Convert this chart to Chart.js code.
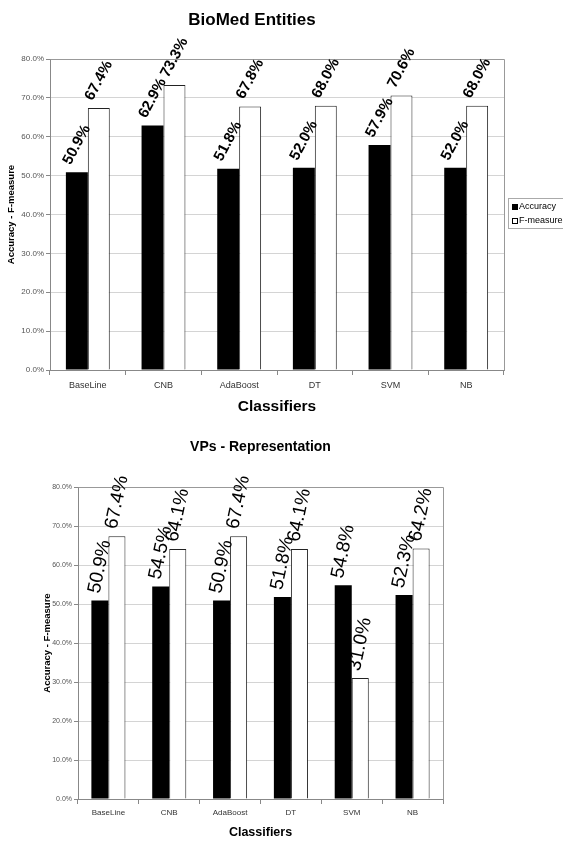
<!DOCTYPE html>
<html>
<head>
<meta charset="utf-8">
<script src="https://cdn.jsdelivr.net/npm/chart.js@4.4.1/dist/chart.umd.min.js"></script>
<style>
  html, body { margin: 0; padding: 0; background: #fff; }
  .wrap { position: absolute; left: 0; width: 563px; }
  #top-wrap { top: 0; height: 420px; }
  #bottom-wrap { top: 420px; height: 421px; }
</style>
</head>
<body>
<div class="wrap" id="top-wrap"><canvas id="biomed-chart"></canvas></div>
<div class="wrap" id="bottom-wrap"><canvas id="vps-chart"></canvas></div>
<script>
// data
const classifiers = ['BaseLine', 'CNB', 'AdaBoost', 'DT', 'SVM', 'NB'];
const biomedAccuracy = [50.9, 62.9, 51.8, 52.0, 57.9, 52.0];
const biomedFMeasure = [67.4, 73.3, 67.8, 68.0, 70.6, 68.0];
const vpsAccuracy = [50.9, 54.5, 50.9, 51.8, 54.8, 52.3];
const vpsFMeasure = [67.4, 64.1, 67.4, 64.1, 31.0, 64.2];
const yTicks = [0, 10, 20, 30, 40, 50, 60, 70, 80];

const SANS = "'Liberation Sans', Arial, sans-serif";

// rotated value labels above each bar (Excel style)
const barLabels = {
    id: 'barLabels',
    afterDatasetsDraw(chart, args, opts) {
        const ctx = chart.ctx;
        const ang = opts.angle * Math.PI / 180;
        ctx.save();
        ctx.font = opts.font;
        ctx.fillStyle = '#000';
        ctx.textAlign = 'center';
        ctx.textBaseline = 'middle';
        chart.data.datasets.forEach((ds, i) => {
            chart.getDatasetMeta(i).data.forEach((bar, j) => {
                const txt = ds.data[j].toFixed(1) + '%';
                const w = ctx.measureText(txt).width;
                const boxH = w * Math.sin(ang) + opts.size * 0.75 * Math.cos(ang);
                ctx.save();
                ctx.translate(bar.x, bar.y - opts.gap - boxH / 2);
                ctx.rotate(-ang);
                ctx.fillText(txt, 0, 0);
                ctx.restore();
            });
        });
        ctx.restore();
    }
};

// top and right edge of the plot area
const plotFrame = {
    id: 'plotFrame',
    beforeDatasetsDraw(chart) {
        const {ctx, chartArea: a} = chart;
        ctx.save();
        ctx.strokeStyle = '#999';
        ctx.lineWidth = 1;
        ctx.beginPath();
        ctx.moveTo(Math.round(a.left) + 0.5, Math.round(a.top) + 0.5);
        ctx.lineTo(Math.round(a.right) + 0.5, Math.round(a.top) + 0.5);
        ctx.lineTo(Math.round(a.right) + 0.5, Math.round(a.bottom) + 0.5);
        ctx.stroke();
        ctx.restore();
    }
};

// small boxed legend on the right
const boxLegend = {
    id: 'boxLegend',
    afterDraw(chart, args, opts) {
        const ctx = chart.ctx;
        ctx.save();
        ctx.strokeStyle = '#aaa';
        ctx.lineWidth = 1;
        ctx.strokeRect(opts.x + 0.5, opts.y + 0.5, opts.w, opts.h);
        ctx.font = opts.font;
        ctx.textAlign = 'left';
        ctx.textBaseline = 'middle';
        chart.data.datasets.forEach((ds, i) => {
            const y = opts.y + opts.first + i * opts.step;
            ctx.fillStyle = ds.backgroundColor;
            ctx.fillRect(opts.x + 4, y - 3, 6, 6);
            ctx.strokeStyle = '#000';
            ctx.strokeRect(opts.x + 4.5, y - 2.5, 5, 5);
            ctx.fillStyle = '#000';
            ctx.fillText(ds.label, opts.x + 11, y);
        });
        ctx.restore();
    }
};

function makeChart(canvas, acc, fm, fmLabel, s) {
    return new Chart(canvas.getContext('2d'), {
        type: 'bar',
        data: {
            labels: classifiers,
            datasets: [
                { label: 'Accuracy', data: acc, backgroundColor: '#000', borderWidth: 0 },
                { label: fmLabel, data: fm, backgroundColor: '#fff', borderColor: '#222', borderWidth: 1 }
            ]
        },
        options: {
            responsive: true,
            maintainAspectRatio: false,
            animation: false,
            devicePixelRatio: 1,
            categoryPercentage: s.catPct,
            barPercentage: 1,
            layout: { padding: s.padding },
            plugins: {
                legend: { display: false },
                tooltip: { enabled: false },
                title: {
                    display: true,
                    text: s.title,
                    color: '#000',
                    fullSize: s.titleFull,
                    font: { family: SANS, size: s.titleSize, weight: 'bold' },
                    padding: s.titlePad
                },
                barLabels: s.labels,
                boxLegend: s.legend
            },
            scales: {
                x: {
                    afterFit: sc => { sc.height = s.xHeight; },
                    grid: { offset: true, drawOnChartArea: false, tickLength: 5, color: '#888' },
                    border: { display: true, color: '#888' },
                    ticks: { color: '#333', font: { family: SANS, size: s.catSize }, padding: s.catPad, maxRotation: 0, autoSkip: false },
                    title: {
                        display: true,
                        text: 'Classifiers',
                        color: '#000',
                        font: { family: SANS, size: s.xTitleSize, weight: 'bold' },
                        padding: { top: 0, bottom: s.xTitlePad }
                    }
                },
                y: {
                    min: yTicks[0],
                    max: yTicks[yTicks.length - 1],
                    afterBuildTicks: sc => { sc.ticks = yTicks.map(v => ({ value: v })); },
                    afterFit: sc => { sc.width = s.yWidth; },
                    grid: { color: '#d4d4d4', tickLength: 4, tickColor: '#888' },
                    border: { display: true, color: '#888' },
                    ticks: {
                        color: '#555',
                        padding: 2,
                        font: { family: SANS, size: s.yTickSize },
                        callback: v => v.toFixed(1) + '%'
                    },
                    title: {
                        display: true,
                        text: 'Accuracy - F-measure',
                        color: '#000',
                        font: { family: SANS, size: 9.5, weight: 'bold' },
                        padding: { top: s.yTitlePad, bottom: 0 }
                    }
                }
            }
        },
        plugins: [plotFrame, barLabels, boxLegend]
    });
}

makeChart(document.querySelector('#biomed-chart'), biomedAccuracy, biomedFMeasure, 'F-measure', {
    title: 'BioMed Entities',
    titleSize: 17,
    titleFull: true,
    titlePad: { top: 10, bottom: 28.6 },
    padding: { left: 0, right: 59, top: 0, bottom: 0 },
    catPct: 0.58,
    xHeight: 50,
    yWidth: 50,
    yTickSize: 8,
    yTitlePad: 6,
    catSize: 9,
    catPad: 5,
    xTitleSize: 15.5,
    xTitlePad: 4,
    labels: { font: 'bold 15px ' + SANS, size: 15, angle: 62, gap: 6 },
    legend: { x: 508, y: 198, w: 60, h: 30, first: 9, step: 14, font: '9px ' + SANS }
});

makeChart(document.querySelector('#vps-chart'), vpsAccuracy, vpsFMeasure, 'F-Measure', {
    title: 'VPs - Representation',
    titleSize: 14,
    titleFull: false,
    titlePad: { top: 19, bottom: 31.2 },
    padding: { left: 37, right: 120, top: 0, bottom: 0 },
    catPct: 0.56,
    xHeight: 42,
    yWidth: 41,
    yTickSize: 7,
    yTitlePad: 5,
    catSize: 8,
    catPad: 4,
    xTitleSize: 12.5,
    xTitlePad: 1,
    labels: { font: 'normal 19px ' + SANS, size: 19, angle: 78, gap: 6 },
    legend: { x: 447, y: 515, w: 56, h: 30, first: 9, step: 14, font: '8.5px ' + SANS }
});
</script>
</body>
</html>
